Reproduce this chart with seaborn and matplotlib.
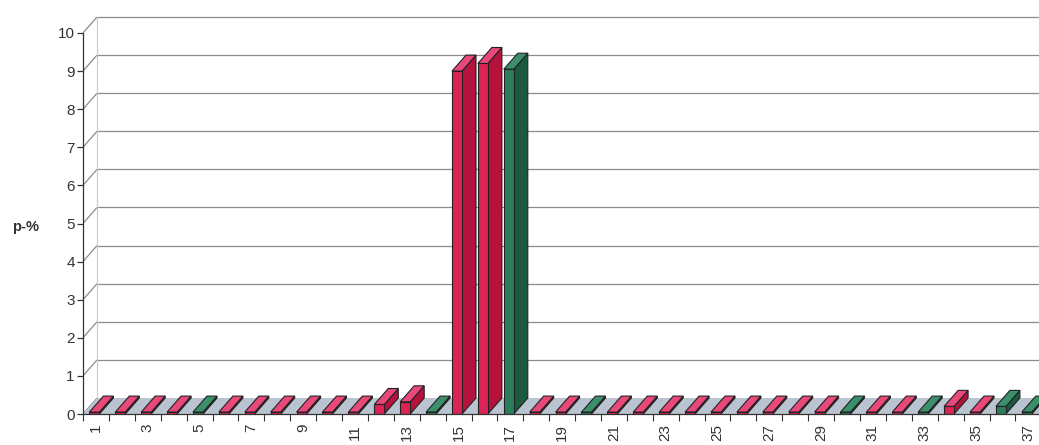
import matplotlib
matplotlib.use("Agg")
import matplotlib.pyplot as plt
from matplotlib.patches import Polygon
import pandas as pd
import seaborn as sns

# --- data -------------------------------------------------------------
categories = [str(c) for c in range(1, 38)]
values = [0.05, 0.05, 0.05, 0.05, 0.05, 0.05, 0.05, 0.05, 0.05, 0.05,
          0.05, 0.25, 0.32, 0.05, 9.0, 9.2, 9.05, 0.05, 0.05, 0.05,
          0.05, 0.05, 0.05, 0.05, 0.05, 0.05, 0.05, 0.05, 0.05, 0.05,
          0.05, 0.05, 0.05, 0.2, 0.05, 0.2, 0.05]
series = ["a", "a", "a", "a", "b", "a", "a", "a", "a", "a",
          "a", "a", "a", "b", "a", "a", "b", "a", "a", "b",
          "a", "a", "a", "a", "a", "a", "a", "a", "a", "b",
          "a", "a", "b", "a", "a", "b", "b"]
y_label = "p-%"

# --- styling ----------------------------------------------------------
front = {"a": "#dc2355", "b": "#2a7c5a"}
side = {"a": "#b5123e", "b": "#1b5a41"}
top = {"a": "#e8487a", "b": "#3b8f6b"}
edge = "#222222"
floor_col = "#b9c4d0"
grid_col = "#8c8c8c"

sns.set_theme(style="white")
plt.rcParams["font.family"] = ["Liberation Sans", "DejaVu Sans"]

W_PX, H_PX = 1039, 445
fig = plt.figure(figsize=(W_PX / 100, H_PX / 100), dpi=100)

cat_px = 25.9          # pixels per category
unit_px = 38.1         # pixels per y unit
x_left_px, y0_px = 83, 414
ymax = 10.6
ax = fig.add_axes([x_left_px / W_PX, (H_PX - y0_px) / H_PX,
                   (W_PX - x_left_px) / W_PX, ymax * unit_px / H_PX])

df = pd.DataFrame({"category": categories, "value": values, "series": series})
bar_w = 0.386
sns.barplot(data=df, x="category", y="value", hue="series", palette=front,
            order=categories, width=bar_w, dodge=False, legend=False,
            edgecolor=edge, linewidth=0.8, ax=ax, saturation=1)

# oblique depth offset (data units)
dx = 14 / cat_px
dy = 16 / unit_px
xl = -0.44
xr = xl + (W_PX - x_left_px) / cat_px
ax.set_xlim(xl, xr)
ax.set_ylim(0, ymax)

# floor
ax.add_patch(Polygon([(xl, 0), (xr + 2, 0), (xr + 2 + dx, dy), (xl + dx, dy)],
                     closed=True, facecolor=floor_col, edgecolor="none", zorder=1))

# side wall diagonals and back-wall gridlines
for k in range(0, 11):
    ax.plot([xl, xl + dx], [k, k + dy], color=grid_col, lw=0.9, zorder=0.5,
            solid_capstyle="butt")
    if k > 0:
        ax.plot([xl + dx, xr + 2], [k + dy, k + dy], color=grid_col, lw=0.9,
                zorder=0.5)
ax.plot([xl + dx, xl + dx], [dy, 10 + dy], color="#c8c8c8", lw=0.8, zorder=0.5)

# 3-D faces for every bar, derived from the drawn bar patches
series_by_pos = dict(zip(range(len(categories)), series))
for p in list(ax.patches):
    if not hasattr(p, "get_width") or p.get_width() > 1:
        continue
    x0 = p.get_x()
    x1 = x0 + p.get_width()
    v = p.get_height()
    idx = int(round(x0 + bar_w / 2))
    s = series_by_pos[idx]
    p.set_zorder(4)
    ax.add_patch(Polygon([(x1, 0), (x1 + dx, dy), (x1 + dx, v + dy), (x1, v)],
                         closed=True, facecolor=side[s], edgecolor=edge,
                         lw=0.8, zorder=3))
    ax.add_patch(Polygon([(x0, v), (x1, v), (x1 + dx, v + dy), (x0 + dx, v + dy)],
                         closed=True, facecolor=top[s], edgecolor=edge,
                         lw=0.8, zorder=3))

# axes decoration
for sp in ["top", "right"]:
    ax.spines[sp].set_visible(False)
ax.spines["left"].set_bounds(0, 10)
ax.spines["left"].set_color("#333333")
ax.spines["left"].set_linewidth(0.9)
ax.spines["bottom"].set_color("#333333")
ax.spines["bottom"].set_linewidth(0.9)
ax.spines["bottom"].set_zorder(5)

ax.set_yticks(range(0, 11))
ax.set_yticklabels([str(k) for k in range(0, 11)])
ax.tick_params(axis="y", which="major", direction="out", length=4, width=0.9,
               color="#333333", labelsize=11, labelcolor="#333333", pad=2,
               left=True)

centers = [i + 0.06 for i in range(len(categories))]
ax.set_xticks(centers[::2])
ax.set_xticklabels(categories[::2], rotation=90)
ax.set_xticks([i - 0.44 for i in range(len(categories))], minor=True)
ax.tick_params(axis="x", which="major", length=0, labelsize=11,
               labelcolor="#333333", pad=7)
ax.tick_params(axis="x", which="minor", direction="out", length=5, width=0.8,
               color="#333333", bottom=True)
ax.set_xlabel("")
ax.set_ylabel("")

fig.text(26 / W_PX, 1 - 227 / H_PX, y_label, ha="center", va="center",
         fontsize=10.5, fontweight="bold", color="#333333")

fig.savefig("out.png", dpi=100)
